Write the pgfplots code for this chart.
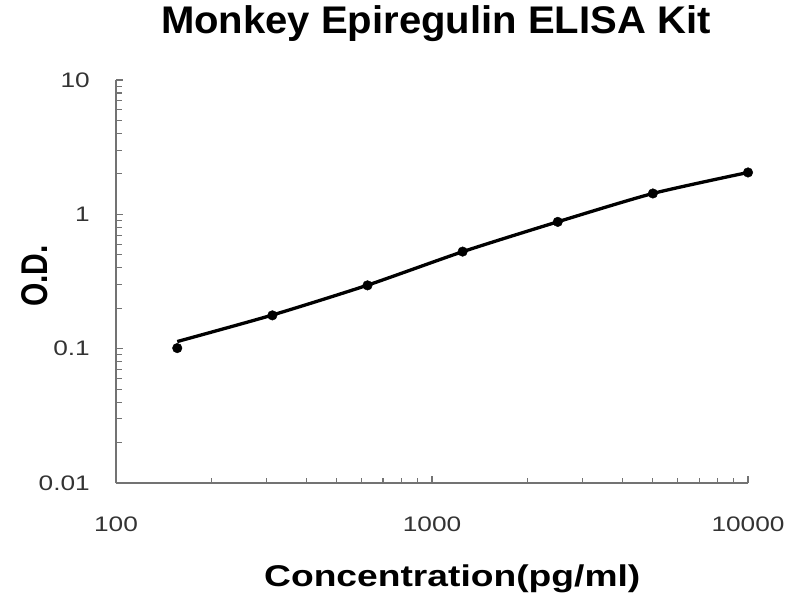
\documentclass[border=0pt]{standalone}
\usepackage{graphicx}
\usepackage{fontspec}
\setmainfont{Liberation Sans}[FakeStretch=1.24]
\newfontfamily\titlefont{Liberation Sans}[FakeStretch=1.04]
\newfontfamily\tickfont{Liberation Sans}[FakeStretch=1.25]
\newfontfamily\plainfont{Liberation Sans}
\usepackage{pgfplots}
\pgfplotsset{compat=1.18}
\begin{document}
\begin{tikzpicture}
\useasboundingbox (0,0) rectangle (800pt,600pt);
\begin{axis}[
  at={(116pt,117pt)}, anchor=south west,
  scale only axis, width=632pt, height=403pt,
  xmode=log, ymode=log,
  xmin=100, xmax=10000, ymin=0.01, ymax=10,
  axis x line=bottom, axis y line=left,
  axis line style={-, draw=black!55, line width=1.6pt},
  tick align=inside,
  every tick/.style={black!55, line width=1.1pt},
  major tick length=7pt, minor tick length=5.5pt,
  xtick={100,1000,10000}, xticklabels={100,1000,10000},
  minor xtick={200,300,400,500,600,700,800,900,2000,3000,4000,5000,6000,7000,8000,9000},
  ytick={0.01,0.1,1,10}, yticklabels={0.01,0.1,1,10},
  minor ytick={0.02,0.03,0.04,0.05,0.06,0.07,0.08,0.09,0.2,0.3,0.4,0.5,0.6,0.7,0.8,0.9,2,3,4,5,6,7,8,9},
  /pgf/number format/assume math mode=true,
  xticklabel style={anchor=base, yshift=-48.7pt, inner sep=0pt, text=black!80, font=\tickfont\fontsize{21}{24}\selectfont},
  yticklabel style={anchor=east, xshift=-26pt, inner sep=0pt, text=black!80, font=\tickfont\fontsize{21}{24}\selectfont},
  title={\titlefont\fontsize{38.5}{44}\selectfont\bfseries Monkey Epiregulin ELISA Kit},
  title style={at={(axis description cs:0.506,1.101)}, anchor=base, inner sep=0pt},
  xlabel={\fontsize{30}{34}\selectfont\bfseries Concentration(pg/ml)},
  xlabel style={at={(axis description cs:0.532,-0.257)}, anchor=base, inner sep=0pt},
  ylabel={\scalebox{1}[1.24]{\plainfont\fontsize{30}{34}\selectfont\bfseries O.D.}},
  ylabel style={at={(axis description cs:-0.109,0.514)}, anchor=base, inner sep=0pt},
  clip=false,
]
\addplot[black, line width=3.3pt, smooth, tension=0.4] coordinates {
  (156.25,0.113) (312.5,0.178) (625,0.297) (1250,0.527) (2500,0.88) (5000,1.43) (10000,2.05)
};
\addplot[only marks, mark=*, mark size=4.8pt, black] coordinates {
  (156.25,0.101) (312.5,0.177) (625,0.296) (1250,0.528) (2500,0.879) (5000,1.43) (10000,2.05)
};
\end{axis}
\end{tikzpicture}
\end{document}
